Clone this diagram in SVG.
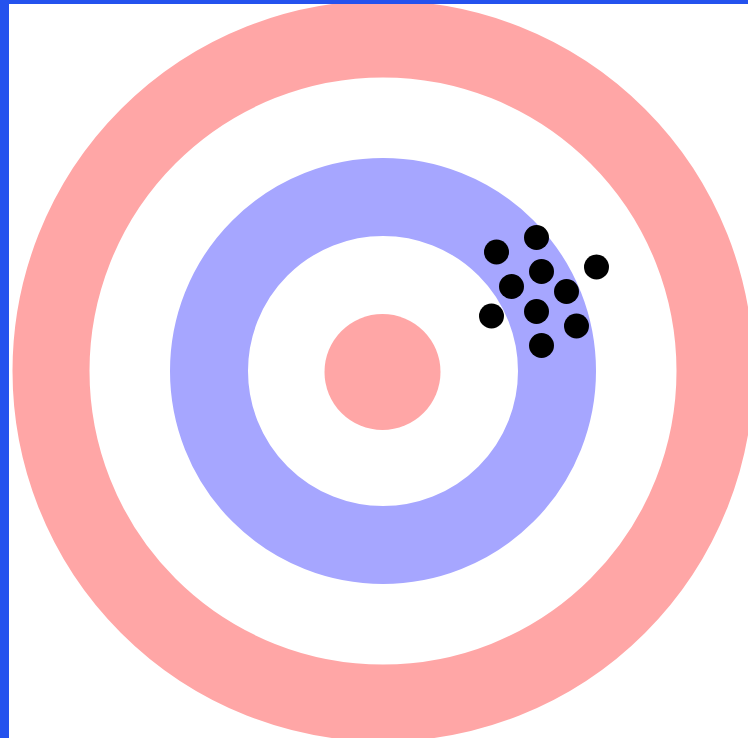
<svg xmlns="http://www.w3.org/2000/svg" width="748" height="738" viewBox="0 0 748 738">
<style>
.pink{fill:none;stroke:#FFA6A6}
.blue{fill:none;stroke:#A6A6FF}
.dot{fill:#000}
</style>
<rect x="0" y="0" width="748" height="738" fill="#fff"/>
<g id="target">
<circle class="pink" cx="383" cy="371" r="332" stroke-width="77"/>
<circle class="blue" cx="383" cy="371" r="174" stroke-width="78"/>
<circle cx="382.5" cy="372" r="58" fill="#FFA6A6"/>
</g>
<g id="shots">
<circle class="dot" cx="536.5" cy="237.5" r="12.5"/>
<circle class="dot" cx="496.5" cy="252" r="12.5"/>
<circle class="dot" cx="541.5" cy="271.5" r="12.5"/>
<circle class="dot" cx="596.5" cy="267" r="12.5"/>
<circle class="dot" cx="511.5" cy="286.5" r="12.5"/>
<circle class="dot" cx="566.5" cy="291.5" r="12.5"/>
<circle class="dot" cx="536.5" cy="311.5" r="12.5"/>
<circle class="dot" cx="491.5" cy="316" r="12.5"/>
<circle class="dot" cx="576.5" cy="326" r="12.5"/>
<circle class="dot" cx="541.5" cy="345.5" r="12.5"/>
</g>
<g id="frame">
<rect x="0" y="0" width="748" height="4" fill="#2452EE"/>
<rect x="0" y="0" width="9" height="738" fill="#2452EE"/>
</g>
</svg>
